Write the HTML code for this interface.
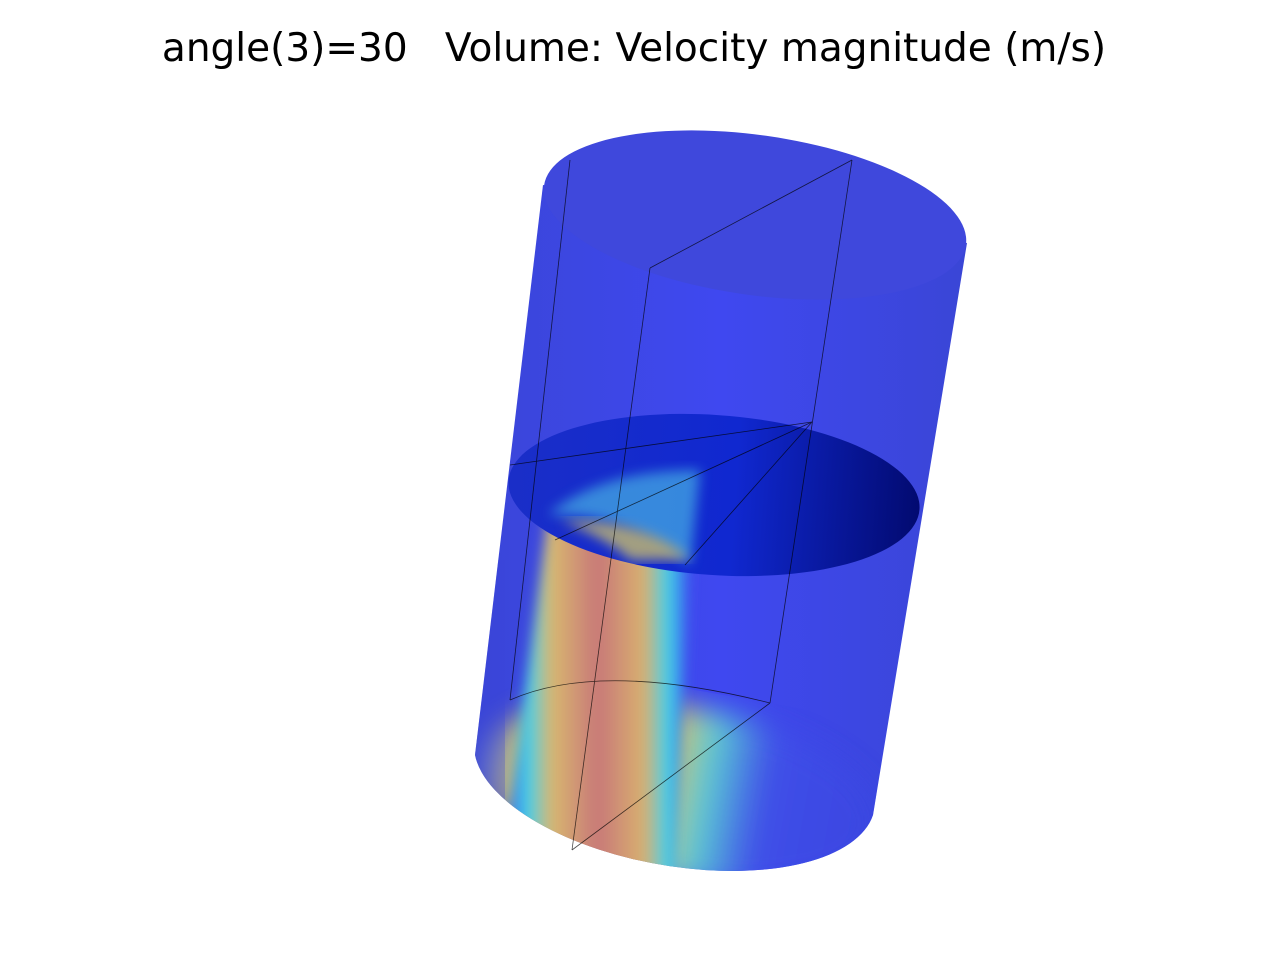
<!DOCTYPE html>
<html>
<head>
<meta charset="utf-8">
<style>
  html, body { margin: 0; padding: 0; background: #fff; }
  body { width: 1280px; height: 960px; overflow: hidden; position: relative; }
  #title { position: absolute; left: -6px; width: 1280px; top: 26px; text-align: center;
    font-family: "DejaVu Sans", "Liberation Sans", sans-serif; font-size: 39px; color: #000; white-space: pre; }
  svg { position: absolute; left: 0; top: 0; }
</style>
</head>
<body>
<div id="title">angle(3)=30   Volume: Velocity magnitude (m/s)</div>
<svg width="1280" height="960">
  <defs>
    <linearGradient id="bodyG" x1="0" y1="0" x2="1" y2="0">
      <stop offset="0" stop-color="#3a46d8"/>
      <stop offset="0.5" stop-color="#3f48f0"/>
      <stop offset="1" stop-color="#3a46d6"/>
    </linearGradient>
    <linearGradient id="diskG" x1="0" y1="0" x2="1" y2="0">
      <stop offset="0" stop-color="#1a2ec8"/>
      <stop offset="0.55" stop-color="#1028d0"/>
      <stop offset="1" stop-color="#020a70"/>
    </linearGradient>
    <linearGradient id="jetG" x1="0" y1="0" x2="1" y2="0">
      <stop offset="0" stop-color="#3a50f0"/>
      <stop offset="0.12" stop-color="#40d0e8"/>
      <stop offset="0.25" stop-color="#d8b870"/>
      <stop offset="0.5" stop-color="#c87878"/>
      <stop offset="0.75" stop-color="#d8b070"/>
      <stop offset="0.88" stop-color="#40d0e8"/>
      <stop offset="1" stop-color="#3a50f0"/>
    </linearGradient>
    <linearGradient id="floorG" x1="0" y1="0" x2="1" y2="0">
      <stop offset="0" stop-color="#4060f0"/>
      <stop offset="0.1" stop-color="#f0e040"/>
      <stop offset="0.3" stop-color="#f09030"/>
      <stop offset="0.45" stop-color="#f0c040"/>
      <stop offset="0.55" stop-color="#60e0d0"/>
      <stop offset="0.7" stop-color="#4050e8"/>
      <stop offset="1" stop-color="#3a46e0"/>
    </linearGradient>
    <filter id="blur"><feGaussianBlur stdDeviation="6"/></filter>
    <filter id="blur2"><feGaussianBlur stdDeviation="14"/></filter>
    <clipPath id="bodyClip">
      <path d="M543,185 L475,755 A203,92 10 0 0 873,815 L967,243 Z"/>
    </clipPath>
  </defs>
  <path d="M543,185 L475,755 A203,92 10 0 0 873,815 L967,243 Z" fill="url(#bodyG)"/>
  <g clip-path="url(#bodyClip)">
    <ellipse cx="680" cy="795" rx="205" ry="88" transform="rotate(10 680 795)" fill="url(#floorG)" filter="url(#blur2)" opacity="0.9"/>
    <path d="M548,515 L690,560 L675,880 L505,840 Z" fill="url(#jetG)" filter="url(#blur)"/>
    <rect x="475" y="560" width="30" height="300" fill="#3a46d8" opacity="0.3"/>
  </g>
  <ellipse cx="714" cy="495" rx="206" ry="80" transform="rotate(4 714 495)" fill="url(#diskG)"/>
  <path d="M548,515 Q600,470 700,470 L690,565 Q620,510 548,515 Z" fill="#50c8e8" opacity="0.6" filter="url(#blur)"/>
  <path d="M560,520 Q610,540 630,560 L690,560 Q650,520 560,520 Z" fill="#e0d060" opacity="0.7" filter="url(#blur)"/>
  <ellipse cx="755" cy="215" rx="213" ry="80" transform="rotate(8 755 215)" fill="#3f48dc"/>
  <g stroke="#000" stroke-width="0.8" fill="none" opacity="0.7">
    <line x1="570" y1="160" x2="510" y2="700"/>
    <line x1="650" y1="268" x2="572" y2="850"/>
    <line x1="852" y1="160" x2="770" y2="703"/>
    <line x1="650" y1="268" x2="852" y2="160"/>
    <line x1="510" y1="465" x2="812" y2="422"/>
    <line x1="555" y1="540" x2="812" y2="422"/>
    <line x1="685" y1="565" x2="812" y2="422"/>
    <line x1="572" y1="850" x2="770" y2="703"/>
    <path d="M510,700 Q600,660 770,703"/>
  </g>
</svg>
</body>
</html>
